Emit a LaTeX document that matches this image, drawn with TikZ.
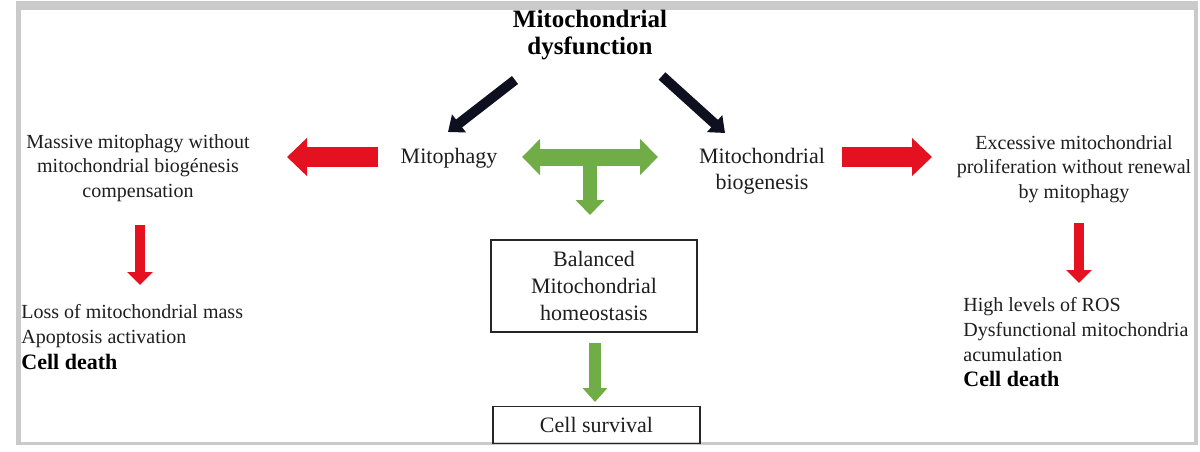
\documentclass[tikz,border=0pt]{standalone}
\usepackage{fontspec}
\setmainfont{Liberation Serif}
\usetikzlibrary{arrows.meta}

\definecolor{framegrey}{RGB}{202,202,202}
\definecolor{arrowred}{RGB}{228,18,32}
\definecolor{leafgreen}{RGB}{112,173,71}
\definecolor{inkblack}{RGB}{14,16,32}
\definecolor{textgrey}{RGB}{30,30,30}

\begin{document}
\begin{tikzpicture}[x=0.5pt,y=-0.5pt,
		titletxt/.style={font=\fontsize{12.5}{13.5}\selectfont\bfseries, align=center, inner sep=0pt, text=black},
		midtxt/.style={font=\fontsize{11}{13}\selectfont, align=center, inner sep=0pt, text=textgrey},
		sidetxt/.style={font=\fontsize{10}{12.3}\selectfont, align=center, inner sep=0pt, text=textgrey},
		boxtxt/.style={draw=black!85, line width=0.6pt, font=\fontsize{11}{13.7}\selectfont, align=center, inner sep=0pt, text=textgrey},
		blackarrow/.style={inkblack, line width=5pt, -{Triangle[width=11pt,length=7pt]}},
		redarrow/.style={arrowred, line width=10pt, -{Triangle[width=18.5pt,length=10pt]}},
		reddown/.style={arrowred, line width=5pt, -{Triangle[width=12.5pt,length=6.5pt]}},
		greenarrow/.style={leafgreen, line width=8.5pt, {Triangle[width=17.5pt,length=9pt]}-{Triangle[width=17.5pt,length=9pt]}},
		greendown/.style={leafgreen, line width=7pt, -{Triangle[width=14pt,length=7.5pt]}}]

	% page and grey frame
	\fill[white] (0,0) rectangle (1200,451);
	\useasboundingbox (0,0) rectangle (1200,451);
	\fill[framegrey] (16,1) rectangle (1198,445);
	\fill[white] (21,10) rectangle (1194,442);

	% texts
	\node[titletxt] (dysf) at (590,35) {Mitochondrial\\dysfunction};
	\node[midtxt] (mitoph) at (449,158) {Mitophagy};
	\node[midtxt] (biogen) at (762,171) {Mitochondrial\\biogenesis};
	\node[sidetxt] (massive) at (138,168) {Massive mitophagy without\\mitochondrial biogénesis\\compensation};
	\node[sidetxt] (excess) at (1074,169) {Excessive mitochondrial\\proliferation without renewal\\by mitophagy};
	\node[sidetxt, align=left, anchor=west, font=\fontsize{10}{12.8}\selectfont] (lossmass) at (21,337) {Loss of mitochondrial mass\\Apoptosis activation\\{\fontsize{11}{12.8}\selectfont\bfseries\color{black} Cell death}};
	\node[sidetxt, align=left, anchor=west, font=\fontsize{10}{12.5}\selectfont] (highros) at (963,342) {High levels of ROS\\Dysfunctional mitochondria\\acumulation\\{\fontsize{11}{13.5}\selectfont\bfseries\color{black} Cell death}};

	% boxes
	\node[boxtxt, minimum width=103pt, minimum height=46pt] (balance) at (594,286) {Balanced\\Mitochondrial\\homeostasis};
	\node[boxtxt, minimum width=103.5pt, minimum height=18.5pt] (survive) at (596.5,425) {Cell survival};

	% arrow ends
	\coordinate (dysf-l) at (515,80);
	\coordinate (mitoph-in) at (448,132);
	\coordinate (dysf-r) at (662,76);
	\coordinate (biogen-in) at (725,133);
	\coordinate (mitoph-out) at (378,157);
	\coordinate (massive-in) at (287,157);
	\coordinate (biogen-out) at (842,157);
	\coordinate (excess-in) at (932,157);
	\coordinate (massive-out) at (140,225);
	\coordinate (lossmass-in) at (140,285);
	\coordinate (excess-out) at (1079,223);
	\coordinate (highros-in) at (1079,283);
	\coordinate (link-l) at (522,157);
	\coordinate (link-r) at (658,157);
	\coordinate (link-m) at (590,160);
	\coordinate (balance-in) at (590,215);
	\coordinate (balance-out) at (595,343);
	\coordinate (survive-in) at (595,402);

	% arrows
	\draw[blackarrow] (dysf-l) -- (mitoph-in);
	\draw[blackarrow] (dysf-r) -- (biogen-in);
	\draw[redarrow] (mitoph-out) -- (massive-in);
	\draw[redarrow] (biogen-out) -- (excess-in);
	\draw[reddown] (massive-out) -- (lossmass-in);
	\draw[reddown] (excess-out) -- (highros-in);
	\draw[greendown] (link-m) -- (balance-in);
	\draw[greenarrow] (link-l) -- (link-r);
	\draw[greendown, line width=6pt, -{Triangle[width=12pt,length=7pt]}] (balance-out) -- (survive-in);
\end{tikzpicture}
\end{document}
